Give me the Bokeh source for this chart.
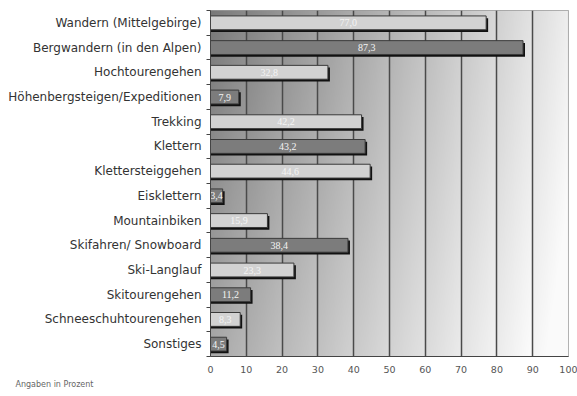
import numpy as np
from bokeh.plotting import figure
from bokeh.models import FixedTicker, Range1d, Title, ColumnDataSource
from bokeh.embed import file_html
from bokeh.resources import INLINE

# Activities and their share in percent
categories = [
    "Wandern (Mittelgebirge)",
    "Bergwandern (in den Alpen)",
    "Hochtourengehen",
    "Höhenbergsteigen/Expeditionen",
    "Trekking",
    "Klettern",
    "Klettersteiggehen",
    "Eisklettern",
    "Mountainbiken",
    "Skifahren/ Snowboard",
    "Ski-Langlauf",
    "Skitourengehen",
    "Schneeschuhtourengehen",
    "Sonstiges",
]
values = [77.0, 87.3, 32.8, 7.9, 42.2, 43.2, 44.6, 3.4, 15.9, 38.4, 23.3, 11.2, 8.3, 4.5]
x_ticks = [0, 10, 20, 30, 40, 50, 60, 70, 80, 90, 100]

n = len(categories)
ys = [n - 1 - i + 0.5 for i in range(n)]          # first category at the top
fills = ["#d2d2d2" if i % 2 == 0 else "#7c7c7c" for i in range(n)]
labels = [f"{v:.1f}".replace(".", ",") for v in values]

src = ColumnDataSource(dict(y=ys, v=values, half=[v / 2 for v in values],
                            fill=fills, label=labels,
                            sv=[v + 0.55 for v in values],
                            sy=[y - 0.09 for y in ys]))

p = figure(width=577, height=396, output_backend="svg", toolbar_location=None,
           x_range=Range1d(0, 100), y_range=Range1d(0, n),
           min_border_left=210, min_border_right=9, min_border_top=10,
           min_border_bottom=40)
p.background_fill_color = "white"
p.border_fill_color = "white"
p.outline_line_color = "#9a9a9a"

# shaded background: dark at the upper left, fading to white at the lower right
nx, ny = 400, 140
gx = np.linspace(0, 1, nx)[None, :]
gy = np.linspace(1, 0, ny)[:, None]            # 1 at bottom row of the image array
frac = (gx * 10) % 1.0
g = 128 + 110 * gx + 48 * gy - 25 * gx * gy - 8 * (1 - frac)
g = np.clip(g, 0, 250).astype(np.uint8)
img = np.empty((ny, nx), dtype=np.uint32)
view = img.view(dtype=np.uint8).reshape((ny, nx, 4))
view[:, :, 0] = g
view[:, :, 1] = g
view[:, :, 2] = g
view[:, :, 3] = 255
bg = p.image_rgba(image=[img], x=0, y=0, dw=100, dh=n)
bg.level = "image"

# bars with a dark drop shadow
p.hbar(y="sy", left=0, right="sv", height=0.56, source=src,
       fill_color="#111111", line_color=None)
p.hbar(y="y", left=0, right="v", height=0.56, source=src,
       fill_color="fill", line_color="#3a3a3a", line_width=1)

p.text(x="half", y="y", text="label", source=src, text_color="#f4f4f4",
       text_align="center", text_baseline="middle", text_font_size="10px",
       text_font="DejaVu Sans")

# axes
p.xaxis.ticker = FixedTicker(ticks=x_ticks)
p.xaxis.major_label_text_font = "DejaVu Sans"
p.xaxis.major_label_text_font_size = "9.5px"
p.xaxis.major_label_text_color = "#555555"
p.xaxis.axis_line_color = "#444444"
p.xaxis.major_tick_line_color = None
p.xaxis.minor_tick_line_color = None
p.xaxis.major_label_standoff = 3

p.yaxis.ticker = FixedTicker(ticks=ys, minor_ticks=list(range(n + 1)))
p.yaxis.major_label_overrides = {y: c for y, c in zip(ys, categories)}
p.yaxis.major_label_text_font = "DejaVu Sans"
p.yaxis.major_label_text_font_size = "12px"
p.yaxis.major_label_text_color = "#333333"
p.yaxis.major_tick_line_color = None
p.yaxis.minor_tick_line_color = "#444444"
p.yaxis.minor_tick_out = 4
p.yaxis.minor_tick_in = 0
p.yaxis.axis_line_color = "#444444"
p.yaxis.major_label_standoff = 3

p.xgrid.ticker = FixedTicker(ticks=x_ticks)
p.xgrid.grid_line_color = "#4a4a4a"
p.xgrid.grid_line_width = 1.5
p.ygrid.grid_line_color = None

# footnote under the axis, pulled out to the left edge of the canvas
note = Title(text="Angaben in Prozent", align="left", offset=-195,
             text_font="DejaVu Sans", text_font_size="8px",
             text_font_style="normal", text_color="#666666", standoff=4)
p.add_layout(note, "below")

open("out.html", "w").write(file_html(p, INLINE))
